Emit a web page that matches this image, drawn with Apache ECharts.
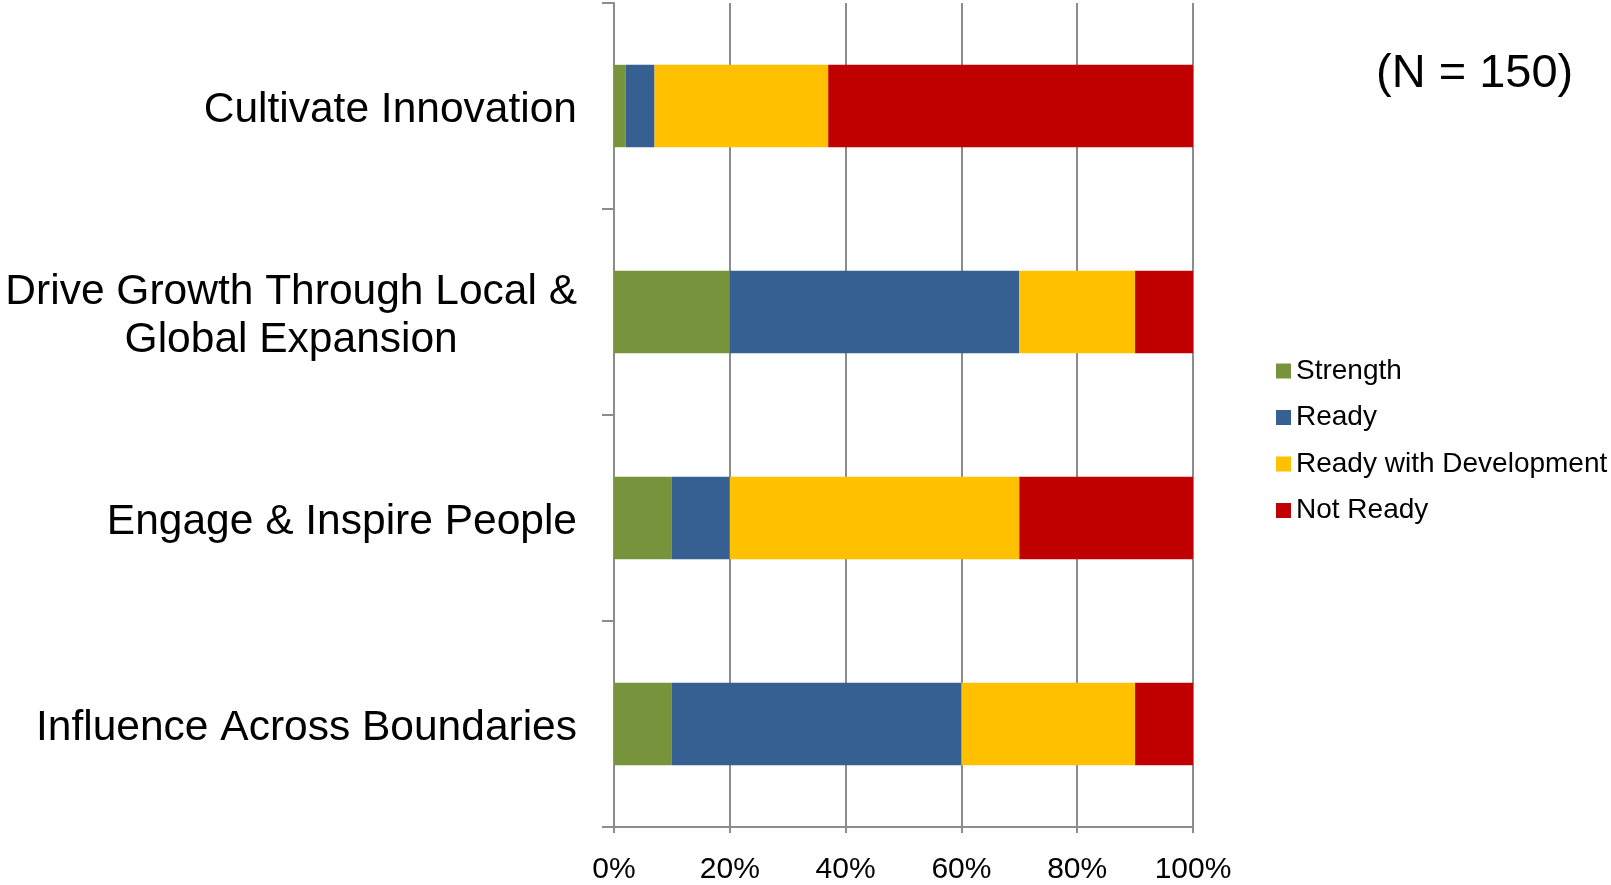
<!DOCTYPE html>
<html>
<head>
<meta charset="utf-8">
<script src="https://cdn.jsdelivr.net/npm/echarts@6/dist/echarts.min.js"></script>
<style>
  html, body { margin: 0; padding: 0; background: #fff; }
  #main { width: 1611px; height: 885px; }
</style>
</head>
<body>
<div id="main"></div>
<script>
// categories, top to bottom
var categories = [
  'Cultivate Innovation',
  'Drive Growth Through Local &\nGlobal Expansion',
  'Engage & Inspire People',
  'Influence Across Boundaries'
];
var xTicks = [0, 20, 40, 60, 80, 100];

// percent per category
var strength = [2, 20, 10, 10];
var ready = [5, 50, 10, 50];
var readyWithDev = [30, 20, 50, 30];
var notReady = [63, 10, 30, 10];

var seriesNames = ['Strength', 'Ready', 'Ready with Development', 'Not Ready'];
var seriesColors = ['#77933C', '#376092', '#FFC000', '#C00000'];
var seriesData = [strength, ready, readyWithDev, notReady];

var font = '"Liberation Sans", Arial, sans-serif';
var gray = '#8c8c8c';

var chart = echarts.init(document.getElementById('main'));

var option = {
  animation: false,
  title: {
    text: '(N = 150)',
    left: 1371,
    top: 46,
    textStyle: { fontFamily: font, fontSize: 47, fontWeight: 'normal', color: '#000' }
  },
  legend: {
    orient: 'vertical',
    left: 1271,
    top: 352,
    icon: 'rect',
    itemWidth: 15,
    itemHeight: 15,
    itemGap: 18.5,
    data: seriesNames,
    textStyle: { fontFamily: font, fontSize: 28, color: '#000' }
  },
  grid: {
    left: 614,
    right: 418,
    top: 3,
    bottom: 58,
    outerBoundsMode: 'none'
  },
  xAxis: {
    type: 'value',
    min: 0,
    max: 100,
    interval: 20,
    axisLine: { show: true, lineStyle: { color: gray, width: 2 } },
    axisTick: { show: true, length: 6, lineStyle: { color: gray, width: 2 } },
    splitLine: { show: true, lineStyle: { color: gray, width: 2 } },
    axisLabel: {
      margin: 28,
      fontFamily: font,
      fontSize: 30,
      color: '#000',
      formatter: function (v) { return xTicks.indexOf(v) >= 0 ? v + '%' : ''; }
    }
  },
  yAxis: {
    type: 'category',
    inverse: true,
    data: categories,
    axisLine: { show: true, lineStyle: { color: gray, width: 2 } },
    axisTick: { show: true, length: 12, lineStyle: { color: gray, width: 2 } },
    splitLine: { show: false },
    axisLabel: {
      margin: 37,
      color: '#000',
      fontFamily: font,
      fontSize: 42.5,
      padding: [8, 0, 0, 0],
      formatter: function (v) {
        return v.split('\n').map(function (l) { return '{c|' + l + '}'; }).join('\n');
      },
      rich: {
        c: { align: 'center', fontFamily: font, fontSize: 42.5, lineHeight: 48, color: '#000' }
      }
    }
  },
  series: seriesNames.map(function (name, i) {
    return {
      name: name,
      type: 'bar',
      stack: 'total',
      barCategoryGap: '60%',
      itemStyle: { color: seriesColors[i] },
      data: seriesData[i]
    };
  })
};

chart.setOption(option);
</script>
</body>
</html>
